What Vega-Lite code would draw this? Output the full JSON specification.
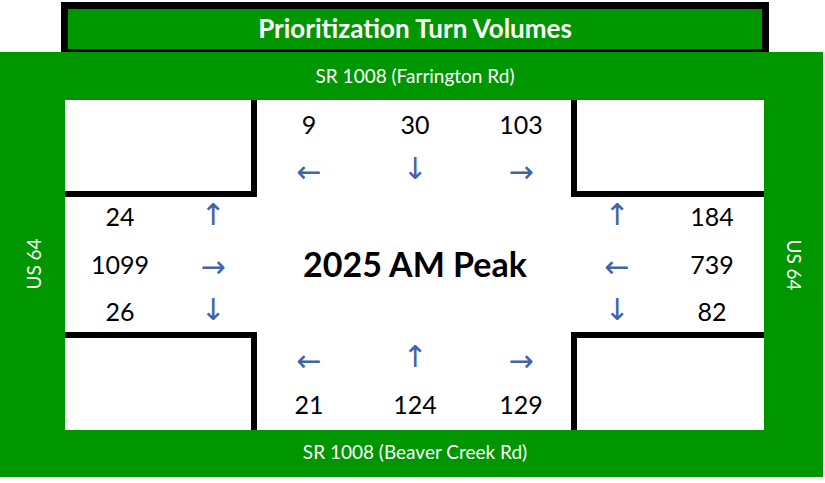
{
  "$schema": "https://vega.github.io/schema/vega-lite/v6.json",
  "width": 825,
  "height": 483,
  "autosize": "none",
  "padding": 0,
  "background": "white",
  "config": {"view": {"stroke": null}},
  "datasets": {
    "areas": [
      {"part": "frame", "x": 61, "x2": 769, "y": 2, "y2": 56},
      {"part": "road", "x": 0, "x2": 823, "y": 52, "y2": 477},
      {"part": "band", "x": 68, "x2": 762, "y": 9, "y2": 49},
      {"part": "island", "x": 65, "x2": 764, "y": 100, "y2": 430}
    ],
    "curbs": [
      {"corner": "NW", "x": 65, "y": 194, "x2": 257, "y2": 194},
      {"corner": "NW", "x": 254, "y": 100, "x2": 254, "y2": 197},
      {"corner": "NE", "x": 574, "y": 100, "x2": 574, "y2": 197},
      {"corner": "NE", "x": 571, "y": 194, "x2": 764, "y2": 194},
      {"corner": "SW", "x": 65, "y": 335, "x2": 257, "y2": 335},
      {"corner": "SW", "x": 254, "y": 332, "x2": 254, "y2": 430},
      {"corner": "SE", "x": 571, "y": 335, "x2": 764, "y2": 335},
      {"corner": "SE", "x": 574, "y": 332, "x2": 574, "y2": 430}
    ],
    "volumes": [
      {"approach": "Southbound", "movement": "Right", "volume": 9, "x": 309, "y": 126},
      {"approach": "Southbound", "movement": "Through", "volume": 30, "x": 415, "y": 126},
      {"approach": "Southbound", "movement": "Left", "volume": 103, "x": 521, "y": 126},
      {"approach": "Northbound", "movement": "Left", "volume": 21, "x": 309, "y": 406},
      {"approach": "Northbound", "movement": "Through", "volume": 124, "x": 415, "y": 406},
      {"approach": "Northbound", "movement": "Right", "volume": 129, "x": 521, "y": 406},
      {"approach": "Eastbound", "movement": "Left", "volume": 24, "x": 120, "y": 218},
      {"approach": "Eastbound", "movement": "Through", "volume": 1099, "x": 120, "y": 266},
      {"approach": "Eastbound", "movement": "Right", "volume": 26, "x": 120, "y": 313},
      {"approach": "Westbound", "movement": "Right", "volume": 184, "x": 712, "y": 218},
      {"approach": "Westbound", "movement": "Through", "volume": 739, "x": 712, "y": 266},
      {"approach": "Westbound", "movement": "Left", "volume": 82, "x": 712, "y": 313}
    ],
    "arrows": [
      {"approach": "Southbound", "movement": "Right", "arrow": "←", "x": 309, "y": 173},
      {"approach": "Southbound", "movement": "Through", "arrow": "↓", "x": 415, "y": 170},
      {"approach": "Southbound", "movement": "Left", "arrow": "→", "x": 521, "y": 173},
      {"approach": "Northbound", "movement": "Left", "arrow": "←", "x": 309, "y": 362},
      {"approach": "Northbound", "movement": "Through", "arrow": "↑", "x": 415, "y": 358},
      {"approach": "Northbound", "movement": "Right", "arrow": "→", "x": 521, "y": 362},
      {"approach": "Eastbound", "movement": "Left", "arrow": "↑", "x": 213, "y": 216},
      {"approach": "Eastbound", "movement": "Through", "arrow": "→", "x": 213, "y": 268},
      {"approach": "Eastbound", "movement": "Right", "arrow": "↓", "x": 213, "y": 311},
      {"approach": "Westbound", "movement": "Right", "arrow": "↑", "x": 617, "y": 216},
      {"approach": "Westbound", "movement": "Through", "arrow": "←", "x": 617, "y": 268},
      {"approach": "Westbound", "movement": "Left", "arrow": "↓", "x": 617, "y": 311}
    ],
    "streets": [
      {"name": "SR 1008 (Farrington Rd)", "x": 415, "y": 77},
      {"name": "SR 1008 (Beaver Creek Rd)", "x": 415, "y": 453}
    ]
  },
  "layer": [
    {
      "data": {"name": "areas"},
      "mark": {"type": "rect"},
      "encoding": {
        "x": {"field": "x", "type": "quantitative", "scale": {"domain": [0, 825], "range": [0, 825], "nice": false, "zero": false}, "axis": null},
        "x2": {"field": "x2"},
        "y": {"field": "y", "type": "quantitative", "scale": {"domain": [0, 483], "range": [0, 483], "nice": false, "zero": false}, "axis": null},
        "y2": {"field": "y2"},
        "color": {"field": "part", "type": "nominal", "legend": null,
          "scale": {"domain": ["frame", "road", "band", "island"], "range": ["#000000", "#009600", "#009600", "#ffffff"]}}
      }
    },
    {
      "data": {"name": "curbs"},
      "mark": {"type": "rule", "color": "#000000", "strokeWidth": 6, "strokeCap": "butt"},
      "encoding": {
        "x": {"field": "x", "type": "quantitative"},
        "x2": {"field": "x2"},
        "y": {"field": "y", "type": "quantitative"},
        "y2": {"field": "y2"}
      }
    },
    {
      "data": {"values": [{"title": "Prioritization Turn Volumes", "x": 415, "y": 30}]},
      "mark": {"type": "text", "font": "Lato", "fontWeight": "bold", "fontSize": 26, "color": "#ffffff", "baseline": "middle", "align": "center"},
      "encoding": {
        "x": {"field": "x", "type": "quantitative"},
        "y": {"field": "y", "type": "quantitative"},
        "text": {"field": "title"}
      }
    },
    {
      "data": {"name": "streets"},
      "mark": {"type": "text", "font": "Lato", "fontSize": 19, "color": "#ffffff", "baseline": "middle", "align": "center"},
      "encoding": {
        "x": {"field": "x", "type": "quantitative"},
        "y": {"field": "y", "type": "quantitative"},
        "text": {"field": "name"}
      }
    },
    {
      "data": {"values": [{"name": "US 64", "x": 35, "y": 264}]},
      "mark": {"type": "text", "font": "Lato", "fontSize": 19, "color": "#ffffff", "baseline": "middle", "align": "center", "angle": 270},
      "encoding": {
        "x": {"field": "x", "type": "quantitative"},
        "y": {"field": "y", "type": "quantitative"},
        "text": {"field": "name"}
      }
    },
    {
      "data": {"values": [{"name": "US 64", "x": 793, "y": 265}]},
      "mark": {"type": "text", "font": "Lato", "fontSize": 19, "color": "#ffffff", "baseline": "middle", "align": "center", "angle": 90},
      "encoding": {
        "x": {"field": "x", "type": "quantitative"},
        "y": {"field": "y", "type": "quantitative"},
        "text": {"field": "name"}
      }
    },
    {
      "data": {"values": [{"label": "2025 AM Peak", "x": 415, "y": 267}]},
      "mark": {"type": "text", "font": "Lato", "fontWeight": "bold", "fontSize": 34, "color": "#000000", "baseline": "middle", "align": "center"},
      "encoding": {
        "x": {"field": "x", "type": "quantitative"},
        "y": {"field": "y", "type": "quantitative"},
        "text": {"field": "label"}
      }
    },
    {
      "data": {"name": "volumes"},
      "mark": {"type": "text", "font": "Lato", "fontSize": 25, "color": "#000000", "baseline": "middle", "align": "center"},
      "encoding": {
        "x": {"field": "x", "type": "quantitative"},
        "y": {"field": "y", "type": "quantitative"},
        "text": {"field": "volume", "type": "quantitative"}
      }
    },
    {
      "data": {"name": "arrows"},
      "mark": {"type": "text", "font": "DejaVu Sans", "fontSize": 30, "color": "#3f64a9", "baseline": "middle", "align": "center"},
      "encoding": {
        "x": {"field": "x", "type": "quantitative"},
        "y": {"field": "y", "type": "quantitative"},
        "text": {"field": "arrow"}
      }
    }
  ]
}
